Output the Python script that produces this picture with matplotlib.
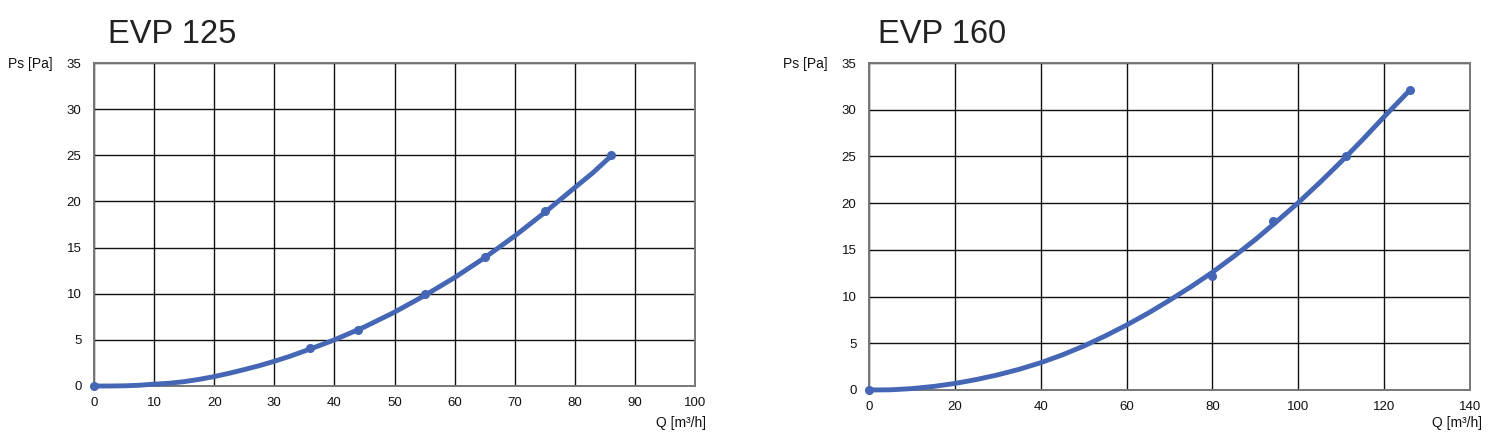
import matplotlib
matplotlib.use('Agg')
import matplotlib.pyplot as plt

plt.rcParams['font.family'] = ['Liberation Sans', 'DejaVu Sans']

# EVP 125 - curva e pontos medidos
q125_curve = [0, 2.5, 5, 7.5, 10, 12.5, 15, 17.5, 20, 22.5, 25, 27.5, 30, 32.5, 35, 37.5, 40,
              45, 50, 55, 60, 65, 70, 75, 80, 83, 86]
ps125_curve = [0, 0, 0.02, 0.08, 0.2, 0.3, 0.47, 0.72, 1.02, 1.38, 1.78, 2.2, 2.68, 3.2, 3.78, 4.38, 5.0,
               6.4, 8.0, 9.8, 11.75, 13.9, 16.25, 18.8, 21.5, 23.1, 24.9]
q125_pts = [0, 36, 44, 55, 65, 75, 86]
ps125_pts = [0, 4.1, 6.1, 10, 14, 19, 25]

# EVP 160 - curva e pontos medidos
q160_curve = [0, 5, 10, 15, 20, 25, 30, 35, 40, 45, 50, 55, 60, 65, 70, 75, 80, 85, 90, 95,
              100, 105, 110, 115, 120, 126]
ps160_curve = [0, 0.02, 0.15, 0.38, 0.7, 1.12, 1.62, 2.22, 2.92, 3.75, 4.7, 5.78, 6.95, 8.22, 9.6,
               11.05, 12.6, 14.3, 16.1, 18.05, 20.05, 22.2, 24.45, 26.8, 29.25, 32.1]
q160_pts = [0, 80, 94, 111, 126]
ps160_pts = [0, 12.2, 18.1, 25, 32.1]

blue = '#4466b4'

fig = plt.figure(figsize=(14.88, 4.37), dpi=100)
ax1 = fig.add_axes([94/1488, 1-386/437, (695-94)/1488, (386-63)/437])
ax2 = fig.add_axes([869/1488, 1-390/437, (1470-869)/1488, (390-63)/437])

configs = [
    (ax1, q125_curve, ps125_curve, q125_pts, ps125_pts, 100, 10, 'EVP 125', 108, 706),
    (ax2, q160_curve, ps160_curve, q160_pts, ps160_pts, 140, 20, 'EVP 160', 878, 1482),
]

for ax, xc, yc, xp, yp, xmax, xstep, title, tx, xlab_r in configs:
    ax.plot(xc, yc, color=blue, lw=3.5, solid_capstyle='round', solid_joinstyle='round', zorder=3)
    ax.plot(xp, yp, 'o', color=blue, ms=5.5, zorder=4)
    ax.set_xlim(0, xmax)
    ax.set_ylim(0, 35)
    ax.set_xticks(range(0, xmax + 1, xstep))
    ax.set_yticks(range(0, 36, 5))
    ax.grid(True, color='#111111', lw=1.0)
    ax.set_axisbelow(True)
    for s in ax.spines.values():
        s.set_color('#777777')
        s.set_linewidth(1.4)
    ax.tick_params(length=0, labelsize=9.5, colors='#111111')
    ax.tick_params(axis='y', pad=9)
    ax.tick_params(axis='x', pad=8)
    for line in ax.get_lines():
        line.set_clip_on(False)
    pos = ax.get_position()
    fig.text(tx/1488, 1-43/437, title, fontsize=23.5, color='#222222', ha='left', va='baseline')
    fig.text((pos.x0*1488 - 41)/1488, 1-64/437, 'Ps [Pa]', fontsize=10, color='#111111', ha='right', va='center')
    fig.text(xlab_r/1488, 1-423/437, 'Q [m³/h]', fontsize=10, color='#111111', ha='right', va='center')

plt.savefig('out.png', dpi=100)
